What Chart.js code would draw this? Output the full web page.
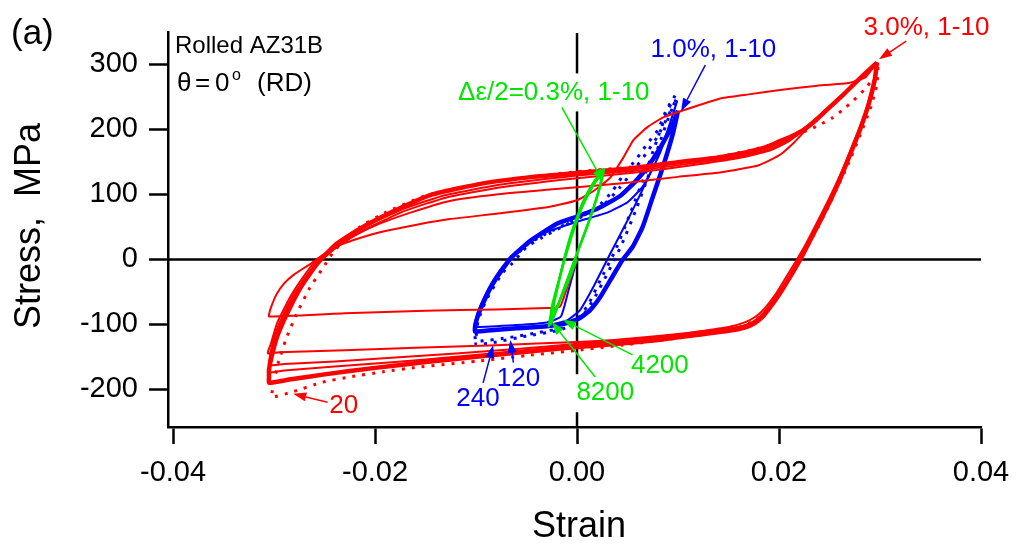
<!DOCTYPE html>
<html>
<head>
<meta charset="utf-8">
<script src="https://cdn.jsdelivr.net/npm/chart.js@4.4.0/dist/chart.umd.min.js"></script>
<style>
  html, body { margin: 0; padding: 0; background: #fff; }
  #wrap { width: 1017px; height: 550px; position: relative; }
</style>
</head>
<body>
<div id="wrap"><canvas id="chart"></canvas></div>
<script>
// colours used for the three strain amplitudes
const RED = '#ff0000'
const BLUE = '#0000ff'
const GREEN = '#00e600'
const FONT = "'Liberation Sans', Arial, sans-serif"

// axis ranges and ticks
const xTicks = [-0.04, -0.02, 0, 0.02, 0.04]
const yTicks = [-200, -100, 0, 100, 200, 300]

// ---- 3.0% strain amplitude, [strain, stress MPa] ----
// cycle 1: compression first, then reversal up to the tensile peak
const redCycle1 = [[0,0],[-0.0009,-40],[-0.0017,-73],[-0.0030,-75],[-0.0080,-77],[-0.0150,-79],[-0.0230,-83],[-0.0305,-88],
  [-0.0305,-85],[-0.0303,-74],[-0.0298,-55],[-0.0290,-37],[-0.0280,-23],[-0.0265,-8],[-0.0253,5],[-0.0235,22],[-0.0215,33],
  [-0.0192,43],[-0.0160,53],[-0.0126,62],[-0.0076,71],[-0.0027,81],[0,91],[0.0017,106],[0.0033,126],[0.0046,157],[0.0056,184],
  [0.0070,204],[0.0086,219],[0.0116,235],[0.0143,248],[0.0170,254],[0.0203,261],[0.0236,267],[0.0270,272],[0.0286,281],[0.0297,303]]

const redCycle2 = [[0.0297,303],[0.0293,270],[0.0285,225],[0.0274,180],[0.0262,135],[0.0250,95],[0.0238,58],[0.0227,25],[0.0217,-2],
  [0.0206,-30],[0.0196,-55],[0.0186,-75],[0.0177,-88],[0.0166,-97],[0.0150,-104],[0.0120,-111],[0.0083,-120],[0.0040,-124],[0,-127],
  [-0.0080,-132],[-0.0160,-136],[-0.0230,-140],[-0.0295,-143],[-0.0306,-145],
  [-0.0306,-142],[-0.0303,-129],[-0.0297,-98],[-0.0284,-58],[-0.0271,-27],[-0.0258,-1],[-0.0235,25],[-0.0200,52],[-0.0165,72],
  [-0.0126,90],[-0.0080,100],[-0.0030,107],[0,111],[0.0050,118],[0.0100,127],[0.0143,134],[0.0180,145],[0.0200,160],[0.0215,180],
  [0.0230,205],[0.0250,234],[0.0264,254],[0.0277,274],[0.0297,303]]

const redCycle3 = [[0.0297,303],[0.0294,272],[0.0287,232],[0.0277,190],[0.0266,148],[0.0255,108],[0.0244,72],[0.0233,38],[0.0222,6],
  [0.0211,-24],[0.0200,-50],[0.0190,-72],[0.0181,-88],[0.0172,-98],[0.0160,-104],[0.0140,-108],[0.0100,-115],[0.0050,-122],[0,-130],
  [-0.0060,-138],[-0.0120,-145],[-0.0180,-151],[-0.0240,-157],[-0.0290,-161],[-0.0305,-163],
  [-0.0305,-158],[-0.0303,-140],[-0.0299,-115],[-0.0290,-82],[-0.0278,-48],[-0.0262,-14],[-0.0250,4],[-0.0232,25],[-0.0205,50],
  [-0.0170,75],[-0.0130,95],[-0.0080,110],[-0.0030,120],[0,125],[0.0060,134],[0.0110,144],[0.0160,156],[0.0190,167],[0.0210,182],
  [0.0228,204],[0.0245,228],[0.0262,252],[0.0278,276],[0.0297,303]]

const redCycle4 = [[0.0297,303],[0.0295,275],[0.0288,236],[0.0279,195],[0.0268,154],[0.0257,114],[0.0247,78],[0.0236,44],[0.0226,12],
  [0.0215,-18],[0.0204,-45],[0.0194,-68],[0.0184,-85],[0.0175,-96],[0.0163,-103],[0.0145,-108],[0.0100,-116],[0.0050,-124],[0,-132],
  [-0.0060,-141],[-0.0120,-150],[-0.0180,-158],[-0.0240,-165],[-0.0290,-171],[-0.0305,-174],
  [-0.0305,-168],[-0.0304,-152],[-0.0300,-126],[-0.0292,-93],[-0.0280,-56],[-0.0264,-20],[-0.0250,3],[-0.0232,27],[-0.0205,54],
  [-0.0170,79],[-0.0130,99],[-0.0080,114],[-0.0030,124],[0,129],[0.0060,137],[0.0110,147],[0.0160,158],[0.0190,169],[0.0210,184],
  [0.0226,203],[0.0244,227],[0.0261,251],[0.0278,276],[0.0297,303]]

// cycles 5-10 sit on top of each other
const redStable = [[0.0297,303],[0.0295,278],[0.0289,240],[0.0280,199],[0.0270,160],[0.0260,122],[0.0250,88],[0.0241,60],[0.0231,30],
  [0.0221,0],[0.0211,-27],[0.0201,-52],[0.0192,-72],[0.0184,-88],[0.0176,-98],[0.0166,-105],[0.0150,-110],[0.0120,-116],[0.0080,-124],
  [0.0040,-130],[0,-135],[-0.0050,-142],[-0.0100,-150],[-0.0150,-158],[-0.0200,-167],[-0.0250,-177],[-0.0285,-185],[-0.0305,-190],
  [-0.0305,-182],[-0.0305,-170],[-0.0302,-147],[-0.0297,-119],[-0.0287,-83],[-0.0274,-44],[-0.0257,-6],[-0.0238,24],[-0.0212,50],
  [-0.0175,79],[-0.0143,100],[-0.0093,117],[-0.0044,127],[0,133],[0.0052,140],[0.0102,150],[0.0140,157],[0.0168,165],[0.0188,173],
  [0.0201,182],[0.0213,190],[0.0224,199],[0.0237,215],[0.0250,234],[0.0264,254],[0.0277,274],[0.0297,303]]

const redCycle20 = [[0.0298,296],[0.0297,270],[0.0291,235],[0.0280,190],[0.0268,145],[0.0256,105],[0.0246,72],[0.0236,42],[0.0226,14],
  [0.0216,-14],[0.0206,-40],[0.0196,-63],[0.0186,-82],[0.0175,-95],[0.0162,-104],[0.0140,-112],[0.0100,-121],[0.0050,-131],[0,-140],
  [-0.0050,-148],[-0.0100,-157],[-0.0158,-166],[-0.0192,-173],[-0.0225,-181],[-0.0252,-189],[-0.0284,-205],[-0.0302,-212],
  [-0.0302,-205],[-0.0300,-188],[-0.0296,-160],[-0.0288,-122],[-0.0278,-85],[-0.0265,-45],[-0.0252,-14],[-0.0241,12],[-0.0229,32],
  [-0.0215,50],[-0.0190,72],[-0.0150,98],[-0.0100,115],[-0.0050,126],[0,135],[0.0060,143],[0.0120,153],[0.0170,167],[0.0200,180],
  [0.0220,193],[0.0240,207],[0.0253,218],[0.0263,230],[0.0274,245],[0.0285,262],[0.0294,280],[0.0298,296]]

// ---- 1.0% strain amplitude ----
const blueCycle1 = [[0,0],[-0.0008,-45],[-0.0016,-88],[-0.0030,-97],[-0.0060,-101],[-0.0101,-104],
  [-0.0101,-98],[-0.0098,-80],[-0.0092,-58],[-0.0083,-32],[-0.0072,-8],[-0.0055,18],[-0.0030,42],[0,58],[0.0030,72],[0.0050,88],
  [0.0065,112],[0.0078,150],[0.0090,200],[0.0099,243],
  [0.0096,228],[0.0092,209],[0.0082,163],[0.0066,111],[0.0050,60],[0.0033,9],[0.0016,-43],[0.0003,-78],[-0.0010,-94],[-0.0030,-102]]

const blueStable = [[0.0100,229],[0.0095,194],[0.0085,142],[0.0075,96],[0.0065,50],[0.0055,19],[0.0045,-1],[0.0033,-32],[0.0023,-58],
  [0.0013,-78],[0.0003,-90],[-0.0010,-98],[-0.0030,-103],[-0.0060,-106],[-0.0085,-109],[-0.0101,-111],
  [-0.0101,-104],[-0.0100,-96],[-0.0097,-82],[-0.0092,-64],[-0.0085,-42],[-0.0075,-18],[-0.0065,3],[-0.0045,30],[-0.0020,55],
  [0,66],[0.0020,78],[0.0043,98],[0.0059,122],[0.0072,147],[0.0085,179],[0.0095,209],[0.0100,229]]

const blueCycle120 = [[0.0098,246],[0.0091,220],[0.0082,180],[0.0071,130],[0.0058,75],[0.0044,22],[0.0030,-22],[0.0017,-60],
  [0.0005,-88],[-0.0010,-104],[-0.0040,-113],[-0.0066,-120],[-0.0100,-126],
  [-0.0101,-116],[-0.0099,-92],[-0.0092,-62],[-0.0080,-28],[-0.0068,-5],[-0.0050,22],[-0.0030,40],[0,62],[0.0025,82],
  [0.0042,110],[0.0055,135],[0.0068,162],[0.0080,190],[0.0090,220],[0.0098,246]]

const blueCycle240 = [[0.0097,252],[0.0089,226],[0.0079,183],[0.0067,129],[0.0052,68],[0.0038,14],[0.0023,-32],[0.0011,-70],
  [-0.0002,-97],[-0.0017,-109],[-0.0050,-118],[-0.0083,-128],[-0.0100,-131],
  [-0.0100,-120],[-0.0098,-95],[-0.0090,-63],[-0.0074,-21],[-0.0064,-6],[-0.0050,19],[-0.0034,34],[-0.0015,50],[0,62],
  [0.0020,80],[0.0035,105],[0.0045,128],[0.0060,157],[0.0070,179],[0.0080,199],[0.0089,232],[0.0097,252]]

// ---- 0.3% strain amplitude ----
const greenCycle1 = [[0,0],[-0.0010,-40],[-0.0020,-72],[-0.0026,-84],
  [-0.0025,-72],[-0.0020,-42],[-0.0013,-5],[-0.0005,36],[0.0004,76],[0.0014,108],[0.0021,125],[0.0026,134]]

const greenStable = [[0.0026,137],[0.0024,120],[0.0019,92],[0.0011,55],[0.0003,22],[-0.0005,-12],[-0.0013,-46],[-0.0020,-75],
  [-0.0026,-97],[-0.0025,-85],[-0.0021,-55],[-0.0015,-15],[-0.0008,28],[0,65],[0.0008,95],[0.0017,120],[0.0026,137]]

const greenCycle4200 = [[0.0027,140],[0.0025,124],[0.0020,97],[0.0012,60],[0.0004,26],[-0.0004,-8],[-0.0012,-42],[-0.0019,-72],
  [-0.0026,-100],[-0.0026,-88],[-0.0022,-60],[-0.0016,-20],[-0.0009,22],[-0.0001,60],[0.0007,92],[0.0017,119],[0.0027,140]]

const greenCycle8200 = [[0.0025,134],[0.0023,117],[0.0018,88],[0.0010,50],[0.0002,17],[-0.0006,-17],[-0.0014,-50],[-0.0021,-80],
  [-0.0028,-103],[-0.0027,-92],[-0.0023,-64],[-0.0017,-26],[-0.0010,16],[-0.0002,54],[0.0007,88],[0.0016,114],[0.0025,134]]

// callouts: text centre, arrow tail and arrow tip, all in [strain, stress]
const callouts = [
  { text: '3.0%, 1-10', color: RED, at: [0.0346, 357], from: [0.0326, 336], to: [0.0299, 308] },
  { text: '20', color: RED, at: [-0.0231, -226], from: [-0.0247, -220], to: [-0.0281, -207] },
  { text: '1.0%, 1-10', color: BLUE, at: [0.0135, 322], from: [0.0127, 299], to: [0.0103, 228] },
  { text: '240', color: BLUE, at: [-0.0098, -215], from: [-0.0093, -190], to: [-0.0083, -132] },
  { text: '120', color: BLUE, at: [-0.0058, -184], from: [-0.0063, -159], to: [-0.0066, -124] },
  { text: '\u0394\u03b5/2=0.3%, 1-10', color: GREEN, at: [-0.0023, 257], from: [-0.0015, 234], to: [0.0026, 119], box: true },
  { text: '8200', color: GREEN, at: [0.0028, -206], from: [0.0018, -181], to: [-0.0025, -96], box: true },
  { text: '4200', color: GREEN, at: [0.0082, -164], from: [0.0055, -147], to: [-0.0014, -93] }
]

const toPoints = arr => arr.map(p => ({ x: p[0], y: p[1] }))

function curve(data, color, width, dashed) {
  return {
    data: toPoints(data),
    showLine: true,
    borderColor: color,
    borderWidth: width,
    borderDash: dashed ? [3, 7] : [],
    pointRadius: 0,
    tension: 0.15,
    fill: false
  }
}

// first dataset is painted last, so green ends up on top and blue underneath
const datasets = [
  curve(greenCycle8200, GREEN, 2),
  curve(greenCycle4200, GREEN, 2),
  curve(greenStable, GREEN, 2.5),
  curve(greenCycle1, GREEN, 2),
  curve(redCycle20, RED, 3, true),
  curve(redStable, RED, 4.5),
  curve(redCycle4, RED, 2),
  curve(redCycle3, RED, 2),
  curve(redCycle2, RED, 2),
  curve(redCycle1, RED, 2),
  curve(blueCycle240, BLUE, 3, true),
  curve(blueCycle120, BLUE, 3, true),
  curve(blueStable, BLUE, 4.5),
  curve(blueCycle1, BLUE, 2)
]

function drawArrow(ctx, x1, y1, x2, y2, color) {
  const a = Math.atan2(y2 - y1, x2 - x1)
  const head = 13, half = 4.5
  const bx = x2 - head * Math.cos(a), by = y2 - head * Math.sin(a)
  ctx.strokeStyle = color
  ctx.fillStyle = color
  ctx.lineWidth = 1.5
  ctx.beginPath()
  ctx.moveTo(x1, y1)
  ctx.lineTo(bx, by)
  ctx.stroke()
  ctx.beginPath()
  ctx.moveTo(x2, y2)
  ctx.lineTo(bx + half * Math.sin(a), by - half * Math.cos(a))
  ctx.lineTo(bx - half * Math.sin(a), by + half * Math.cos(a))
  ctx.closePath()
  ctx.fill()
}

const decorations = {
  id: 'decorations',
  beforeDatasetsDraw(chart) {
    const { ctx, chartArea: area, scales: { x, y } } = chart
    ctx.save()
    // zero lines
    ctx.strokeStyle = '#000'
    ctx.lineWidth = 2.5
    ctx.beginPath()
    ctx.moveTo(area.left, y.getPixelForValue(0))
    ctx.lineTo(area.right, y.getPixelForValue(0))
    ctx.moveTo(x.getPixelForValue(0), area.top + 1)
    ctx.lineTo(x.getPixelForValue(0), area.bottom)
    ctx.stroke()
    // white boxes behind the labels that sit on the zero line
    ctx.font = '26px ' + FONT
    ctx.fillStyle = '#fff'
    callouts.filter(c => c.box).forEach(c => {
      const w = ctx.measureText(c.text).width
      const cx = x.getPixelForValue(c.at[0]), cy = y.getPixelForValue(c.at[1])
      ctx.fillRect(cx - w / 2 - 2, cy - 19, w + 4, 38)
    })
    ctx.restore()
  },
  afterDraw(chart) {
    const { ctx, scales: { x, y } } = chart
    ctx.save()
    ctx.textAlign = 'center'
    ctx.textBaseline = 'middle'
    ctx.font = '26px ' + FONT
    callouts.forEach(c => {
      ctx.fillStyle = c.color
      ctx.fillText(c.text, x.getPixelForValue(c.at[0]), y.getPixelForValue(c.at[1]))
      drawArrow(ctx, x.getPixelForValue(c.from[0]), y.getPixelForValue(c.from[1]),
        x.getPixelForValue(c.to[0]), y.getPixelForValue(c.to[1]), c.color)
    })

    ctx.fillStyle = '#000'
    // axis titles
    ctx.font = '36px ' + FONT
    ctx.fillText('Strain', 579, 527)
    ctx.save()
    ctx.translate(30, 226)
    ctx.rotate(-Math.PI / 2)
    ctx.fillText('Stress,  MPa', 0, 0)
    ctx.restore()

    // panel letter and material note
    ctx.textAlign = 'left'
    ctx.textBaseline = 'alphabetic'
    ctx.font = '35px ' + FONT
    ctx.fillText('(a)', 11, 44)
    ctx.font = '24px ' + FONT
    ctx.fillText('Rolled AZ31B', 175, 53)
    // θ=0° (RD), spaced out as in the symbol font
    ctx.font = '26px ' + FONT
    ctx.fillText('\u03b8', 177, 91)
    ctx.fillText('=', 195, 91)
    ctx.fillText('0', 215, 91)
    ctx.fillText('(RD)', 257, 91)
    ctx.font = '16px ' + FONT
    ctx.fillText('o', 232, 80)
    ctx.restore()
  }
}

new Chart(document.getElementById('chart'), {
  type: 'scatter',
  data: { datasets: datasets },
  options: {
    responsive: true,
    maintainAspectRatio: false,
    animation: false,
    events: [],
    layout: { padding: { top: 32, right: 36, left: 0, bottom: 0 } },
    plugins: { legend: { display: false }, tooltip: { enabled: false } },
    scales: {
      x: {
        type: 'linear',
        min: -0.0405,
        max: 0.040,
        afterFit: s => { s.height = 123; s.paddingLeft = 0; s.paddingRight = 0 },
        afterBuildTicks: s => { s.ticks = xTicks.map(v => ({ value: v })) },
        border: { color: '#000', width: 2.5 },
        grid: { drawOnChartArea: false, drawTicks: true, tickLength: 17, tickWidth: 2.5, tickColor: '#000' },
        ticks: {
          color: '#000', padding: 12, maxRotation: 0, autoSkip: false,
          font: { size: 29, family: FONT },
          callback: v => v.toFixed(2)
        }
      },
      y: {
        type: 'linear',
        min: -258,
        max: 350,
        afterFit: s => { s.width = 168; s.paddingTop = 0; s.paddingBottom = 0 },
        afterBuildTicks: s => { s.ticks = yTicks.map(v => ({ value: v })) },
        border: { color: '#000', width: 2.5 },
        grid: { drawOnChartArea: false, drawTicks: true, tickLength: 19, tickWidth: 2.5, tickColor: '#000' },
        ticks: {
          color: '#000', padding: 11,
          font: { size: 29, family: FONT },
          callback: v => String(v)
        }
      }
    }
  },
  plugins: [decorations]
})
</script>
</body>
</html>
